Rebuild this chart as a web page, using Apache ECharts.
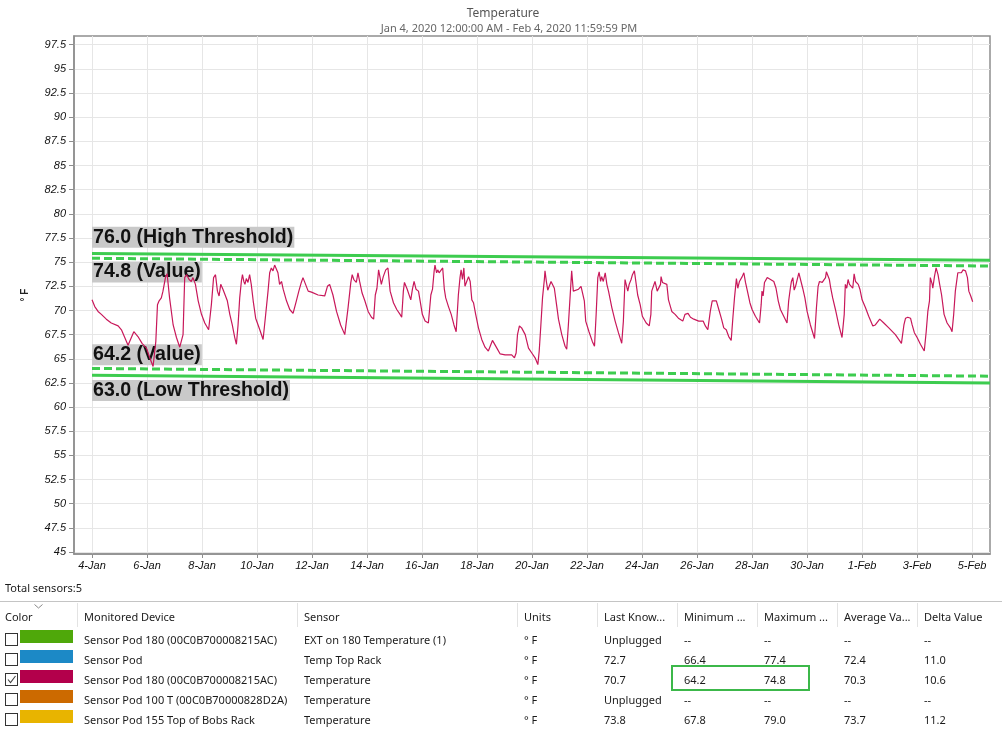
<!DOCTYPE html>
<html>
<head>
<meta charset="utf-8">
<script src="https://cdn.jsdelivr.net/npm/echarts@6/dist/echarts.min.js"></script>
<style>
  html, body { margin: 0; padding: 0; background: #fff; }
  #wrap { position: relative; width: 1002px; height: 732px; overflow: hidden; }
  #chart { position: absolute; left: 0; top: 0; width: 1002px; height: 732px; }
  #panel { position: absolute; left: 0; top: 0; width: 1002px; height: 732px; font-family: 'Noto Sans', sans-serif; font-size: 11px; color: #1b1b1b; pointer-events: none; }
  .abs { position: absolute; white-space: nowrap; line-height: 15px; }
</style>
</head>
<body>
<div id="wrap">
  <div id="chart"></div>
  <div id="panel"></div>
</div>
<script>
// days after Jan 4 2020 00:00 and the reading at that time (deg F)
const dayOffsets = [
  0.00, 0.10, 0.22, 0.34, 0.52, 0.70, 0.95, 1.07, 1.19, 1.31, 1.52, 1.67, 1.82, 1.98, 2.10, 2.22, 2.32, 2.38, 2.44, 2.52,
  2.58, 2.67, 2.73, 2.82, 2.95, 3.07, 3.19, 3.31, 3.37, 3.44, 3.53, 3.61, 3.67, 3.76, 3.86, 3.98, 4.10, 4.24, 4.34, 4.42,
  4.49, 4.56, 4.62, 4.68, 4.76, 4.82, 4.92, 5.01, 5.10, 5.19, 5.25, 5.31, 5.37, 5.43, 5.47, 5.52, 5.56, 5.61, 5.67, 5.73,
  5.79, 5.86, 5.95, 6.10, 6.22, 6.30, 6.40, 6.46, 6.52, 6.58, 6.64, 6.70, 6.76, 6.82, 6.89, 6.95, 7.07, 7.19, 7.31, 7.43,
  7.52, 7.61, 7.67, 7.73, 7.86, 7.98, 8.22, 8.46, 8.56, 8.64, 8.76, 8.89, 9.04, 9.19, 9.31, 9.41, 9.46, 9.52, 9.55, 9.61,
  9.67, 9.73, 9.82, 9.92, 10.04, 10.16, 10.24, 10.30, 10.36, 10.42, 10.52, 10.59, 10.68, 10.76, 10.84, 10.96, 11.08, 11.20, 11.26, 11.32,
  11.36, 11.41, 11.46, 11.53, 11.59, 11.65, 11.71, 11.75, 11.78, 11.83, 11.87, 11.93, 12.01, 12.11, 12.23, 12.32, 12.38, 12.44, 12.47, 12.53,
  12.57, 12.62, 12.69, 12.75, 12.81, 12.86, 12.96, 13.06, 13.16, 13.24, 13.32, 13.38, 13.42, 13.47, 13.52, 13.56, 13.62, 13.69, 13.75, 13.81,
  13.87, 13.95, 14.05, 14.17, 14.29, 14.41, 14.47, 14.56, 14.72, 14.84, 15.02, 15.26, 15.36, 15.42, 15.47, 15.54, 15.62, 15.75, 15.87, 15.99,
  16.11, 16.21, 16.26, 16.32, 16.38, 16.45, 16.47, 16.52, 16.57, 16.64, 16.69, 16.74, 16.81, 16.89, 16.96, 17.08, 17.20, 17.26, 17.32, 17.38,
  17.44, 17.50, 17.56, 17.69, 17.78, 17.83, 17.90, 17.95, 18.07, 18.19, 18.27, 18.33, 18.39, 18.44, 18.49, 18.53, 18.59, 18.66, 18.72, 18.78,
  18.90, 19.02, 19.14, 19.26, 19.32, 19.38, 19.48, 19.53, 19.60, 19.65, 19.72, 19.77, 19.84, 19.93, 20.01, 20.15, 20.26, 20.32, 20.35, 20.41,
  20.47, 20.55, 20.62, 20.67, 20.69, 20.74, 20.81, 20.90, 20.96, 21.08, 21.20, 21.32, 21.48, 21.56, 21.67, 21.76, 21.88, 22.06, 22.22, 22.30,
  22.39, 22.48, 22.55, 22.61, 22.70, 22.79, 22.89, 22.97, 23.06, 23.15, 23.24, 23.30, 23.36, 23.43, 23.48, 23.54, 23.60, 23.64, 23.70, 23.76,
  23.83, 23.92, 24.00, 24.12, 24.27, 24.33, 24.36, 24.40, 24.45, 24.51, 24.55, 24.61, 24.67, 24.73, 24.79, 24.87, 24.95, 25.03, 25.15, 25.27,
  25.33, 25.39, 25.43, 25.48, 25.53, 25.58, 25.64, 25.70, 25.76, 25.84, 25.92, 26.00, 26.12, 26.27, 26.34, 26.40, 26.45, 26.50, 26.55, 26.61,
  26.67, 26.70, 26.76, 26.81, 26.86, 26.93, 27.03, 27.15, 27.27, 27.35, 27.39, 27.44, 27.49, 27.54, 27.59, 27.66, 27.71, 27.76, 27.82, 27.86,
  27.92, 28.00, 28.12, 28.24, 28.39, 28.48, 28.64, 28.79, 28.97, 29.21, 29.43, 29.52, 29.58, 29.66, 29.76, 29.82, 29.90, 30.00, 30.12, 30.26,
  30.33, 30.39, 30.45, 30.48, 30.55, 30.57, 30.63, 30.69, 30.76, 30.82, 30.89, 30.98, 31.09, 31.21, 31.27, 31.33, 31.39, 31.48, 31.55, 31.61,
  31.67, 31.76, 31.83, 31.88, 31.95, 32.02
]
const tempF = [
  71.1, 70.4, 69.9, 69.6, 69.1, 68.7, 68.4, 68.0, 67.2, 66.4, 67.8, 67.3, 66.6, 66.1, 65.1, 64.2, 66.8, 70.6, 71.0, 71.3,
  72.0, 73.4, 73.8, 71.3, 68.5, 67.2, 66.2, 67.5, 73.4, 73.7, 73.2, 73.0, 73.4, 72.7, 71.0, 69.6, 68.7, 68.0, 70.6, 73.4,
  73.7, 72.0, 71.5, 72.7, 72.2, 72.3, 71.0, 69.6, 68.5, 67.2, 66.5, 68.5, 71.3, 73.0, 73.7, 73.0, 72.7, 73.3, 72.9, 73.7,
  72.7, 71.0, 69.2, 68.0, 67.0, 69.2, 72.0, 73.9, 74.4, 74.1, 74.7, 74.6, 73.9, 72.7, 73.0, 72.2, 71.0, 70.1, 69.7, 71.0,
  72.0, 72.9, 73.4, 73.2, 72.0, 71.9, 71.6, 71.5, 72.5, 72.7, 71.6, 69.9, 68.5, 67.5, 70.3, 72.9, 73.7, 73.2, 73.4, 72.9,
  73.9, 73.0, 71.8, 71.0, 69.9, 69.3, 69.1, 71.6, 72.3, 74.2, 72.7, 73.5, 74.2, 74.4, 72.0, 70.8, 70.1, 69.6, 69.3, 72.0,
  72.9, 73.1, 72.2, 72.0, 71.1, 72.2, 73.0, 73.1, 72.2, 72.3, 72.0, 71.0, 69.6, 68.9, 68.7, 71.6, 72.2, 74.1, 74.7, 73.9,
  74.2, 73.9, 73.7, 74.4, 72.2, 71.3, 70.4, 69.6, 68.5, 67.8, 71.6, 73.4, 74.2, 73.2, 74.4, 72.5, 72.7, 73.5, 73.0, 71.1,
  70.8, 69.6, 68.2, 67.0, 66.2, 65.8, 65.8, 66.9, 66.1, 65.5, 65.4, 65.4, 65.1, 65.6, 67.5, 68.4, 68.2, 67.5, 66.1, 65.6,
  65.1, 64.4, 65.8, 68.5, 71.3, 73.3, 74.1, 73.0, 72.1, 72.3, 73.0, 72.9, 72.3, 70.6, 69.1, 67.5, 66.3, 66.0, 68.5, 71.3,
  74.1, 72.0, 72.1, 72.2, 72.5, 72.3, 71.0, 68.9, 67.8, 66.8, 66.3, 69.6, 73.4, 74.0, 73.0, 73.5, 73.0, 73.9, 72.7, 72.0,
  70.3, 68.9, 67.7, 66.6, 68.9, 73.2, 72.0, 72.7, 73.2, 73.7, 74.1, 74.1, 71.6, 70.6, 69.4, 68.7, 68.4, 69.6, 72.0, 72.1,
  73.0, 72.0, 72.2, 72.7, 73.5, 72.9, 72.9, 72.7, 71.1, 69.9, 69.6, 69.2, 68.9, 69.6, 69.7, 69.3, 69.1, 68.9, 68.9, 68.4,
  68.0, 69.9, 71.0, 71.1, 71.0, 70.1, 69.1, 68.2, 68.0, 67.3, 66.9, 69.2, 71.3, 73.3, 72.3, 73.0, 73.1, 73.5, 73.9, 72.9,
  72.0, 70.8, 70.1, 69.4, 68.7, 70.6, 72.0, 71.5, 72.9, 73.0, 73.4, 73.5, 73.2, 73.2, 73.0, 72.3, 71.0, 70.1, 69.4, 68.7,
  71.0, 72.3, 73.0, 73.4, 72.1, 72.5, 72.3, 73.9, 73.8, 72.3, 71.3, 69.9, 68.5, 67.1, 70.3, 72.5, 73.0, 73.2, 72.9, 72.7,
  73.4, 74.0, 73.9, 73.2, 72.3, 71.3, 70.1, 68.5, 67.2, 69.6, 72.7, 72.3, 73.2, 72.7, 72.9, 72.3, 73.8, 73.0, 73.0, 72.7,
  72.2, 71.1, 70.3, 69.4, 68.4, 68.5, 69.1, 68.7, 68.2, 67.5, 66.6, 68.5, 69.2, 69.3, 69.2, 68.5, 67.7, 67.2, 66.5, 65.8,
  67.8, 69.9, 71.0, 73.4, 72.7, 72.3, 73.5, 74.4, 73.7, 72.7, 71.6, 69.6, 68.7, 68.2, 67.8, 69.6, 72.0, 73.9, 74.1, 73.9,
  74.2, 74.1, 73.4, 72.0, 71.5, 70.9
]

const xTickDays = [0, 2, 4, 6, 8, 10, 12, 14, 16, 18, 20, 22, 24, 26, 28, 30, 32]
const yTickValues = [45, 47.5, 50, 52.5, 55, 57.5, 60, 62.5, 65, 67.5, 70, 72.5, 75, 77.5, 80, 82.5, 85, 87.5, 90, 92.5, 95, 97.5]
const monthNames = ['Jan', 'Feb', 'Mar']

// reference lines: label, value at the left end, value at the right end (as drawn)
const refLabels = ['76.0 (High Threshold)', '74.8 (Value)', '64.2 (Value)', '63.0 (Low Threshold)']
const refStart = [75.9, 75.4, 64.0, 63.3]
const refEnd = [75.2, 74.6, 63.2, 62.5]

// sensor table
const tableHeaders = ['Color', 'Monitored Device', 'Sensor', 'Units', 'Last Know...', 'Minimum ...', 'Maximum ...', 'Average Va...', 'Delta Value']
const devices = ['Sensor Pod 180 (00C0B700008215AC)', 'Sensor Pod', 'Sensor Pod 180 (00C0B700008215AC)', 'Sensor Pod 100 T (00C0B70000828D2A)', 'Sensor Pod 155 Top of Bobs Rack']
const sensors = ['EXT on 180 Temperature (1)', 'Temp Top Rack', 'Temperature', 'Temperature', 'Temperature']
const units = ['° F', '° F', '° F', '° F', '° F']
const lastKnown = ['Unplugged', '72.7', '70.7', 'Unplugged', '73.8']
const minimum = ['--', '66.4', '64.2', '--', '67.8']
const maximum = ['--', '77.4', '74.8', '--', '79.0']
const average = ['--', '72.4', '70.3', '--', '73.7']
const delta = ['--', '11.0', '10.6', '--', '11.2']
const checked = [false, false, true, false, false]
const totalSensors = 5

const X_MIN = -0.655
const X_MAX = 32.65
const lineGreen = '#3dcc4f'

const dayLabel = (d) => {
  const dt = new Date(Date.UTC(2020, 0, 4) + Math.round(d) * 86400000)
  return dt.getUTCDate() + '-' + monthNames[dt.getUTCMonth()]
}

const refSeries = (i, dashed, offsetY) => ({
  type: 'line',
  z: 2,
  symbol: 'circle',
  symbolSize: 0,
  showSymbol: true,
  silent: true,
  lineStyle: { color: lineGreen, width: 3, type: dashed ? [8, 4] : 'solid' },
  itemStyle: { color: lineGreen },
  data: [
    {
      value: [0, refStart[i]],
      label: {
        show: true,
        position: 'right',
        distance: 0,
        offset: [0, offsetY],
        formatter: refLabels[i],
        fontFamily: 'Liberation Sans, Arial, sans-serif',
        fontWeight: 'bold',
        fontSize: 19.6,
        lineHeight: 21,
        color: '#111',
        backgroundColor: '#c9c9c9',
        padding: [0, 1],
      },
    },
    [X_MAX, refEnd[i]],
  ],
})

const axisFont = 'Liberation Sans, Arial, sans-serif'

const chart = echarts.init(document.getElementById('chart'))
chart.setOption({
  animation: false,
  backgroundColor: '#fff',
  title: [
    {
      text: 'Temperature',
      left: 498,
      top: 3,
      textAlign: 'center',
      textStyle: { fontFamily: 'Noto Sans', fontSize: 12, fontWeight: 'normal', color: '#555' },
    },
    {
      text: 'Jan 4, 2020 12:00:00 AM - Feb 4, 2020 11:59:59 PM',
      left: 504,
      top: 18,
      textAlign: 'center',
      textStyle: { fontFamily: 'Noto Sans', fontSize: 11, fontWeight: 'normal', color: '#666' },
    },
  ],
  grid: {
    left: 74,
    right: 12,
    top: 36,
    bottom: 178,
    show: true,
    borderColor: '#8e8e8e',
    borderWidth: 1.5,
  },
  xAxis: {
    type: 'value',
    min: X_MIN,
    max: X_MAX,
    axisLine: { show: true, onZero: false, lineStyle: { color: '#8e8e8e', width: 1.5 } },
    axisTick: { show: true, customValues: xTickDays, length: 4, lineStyle: { color: '#8e8e8e' } },
    axisLabel: {
      customValues: xTickDays,
      formatter: dayLabel,
      margin: 6,
      fontFamily: axisFont,
      fontStyle: 'italic',
      fontSize: 11,
      color: '#111',
    },
    splitLine: { show: true, lineStyle: { color: '#e6e6e6' } },
  },
  yAxis: {
    type: 'value',
    min: 44.8,
    max: 98.4,
    name: '° F',
    nameLocation: 'middle',
    nameGap: 44,
    nameRotate: 90,
    nameTextStyle: { fontFamily: axisFont, fontSize: 10, fontWeight: 'bold', color: '#222' },
    axisLine: { show: true, onZero: false, lineStyle: { color: '#8e8e8e', width: 1.5 } },
    axisTick: { show: true, customValues: yTickValues, length: 5, lineStyle: { color: '#8e8e8e' } },
    axisLabel: {
      customValues: yTickValues,
      margin: 8,
      fontFamily: axisFont,
      fontStyle: 'italic',
      fontSize: 11,
      color: '#111',
    },
    splitLine: { show: true, lineStyle: { color: '#e6e6e6' } },
  },
  series: [
    refSeries(0, false, -16.2),
    refSeries(1, true, 13.7),
    refSeries(2, true, -13.7),
    refSeries(3, false, 15.2),
    {
      name: 'Temperature',
      type: 'line',
      z: 3,
      symbol: 'none',
      silent: true,
      lineStyle: { color: '#c8185a', width: 1.2 },
      data: dayOffsets.map((d, i) => [d, tempF[i]]),
    },
  ],
})

// sensor list under the chart
const panel = document.getElementById('panel')
const swatchColors = ['#4fa80a', '#1c89c6', '#b3004b', '#cc6a00', '#e8b400']
const colX = [84, 304, 524, 604, 684, 764, 844, 924]
const sepX = [77, 297, 517, 597, 677, 757, 837, 917]

const put = (html, css) => {
  const el = document.createElement('div')
  el.className = 'abs'
  el.innerHTML = html
  Object.assign(el.style, css)
  panel.appendChild(el)
  return el
}

put('Total sensors:' + totalSensors, { left: '5px', top: '580px' })
put('', { left: '0px', top: '601px', width: '1002px', height: '1px', background: '#c4c4c4' })
put('<svg width="9" height="5"><polyline points="0.5,0.5 4.5,4 8.5,0.5" fill="none" stroke="#888" stroke-width="1"/></svg>', { left: '34px', top: '602px', lineHeight: '5px' })

put(tableHeaders[0], { left: '5px', top: '609px' })
tableHeaders.slice(1).forEach((h, i) => put(h, { left: colX[i] + 'px', top: '609px' }))
sepX.forEach((x) => put('', { left: x + 'px', top: '603px', width: '1px', height: '24px', background: '#e3e3e3' }))

const rowColumns = [devices, sensors, units, lastKnown, minimum, maximum, average, delta]
devices.forEach((_, r) => {
  const cy = 639.5 + r * 20
  put(checked[r] ? '<svg width="11" height="11"><polyline points="2,5.5 4.5,8.5 9.5,2" fill="none" stroke="#444" stroke-width="1.1"/></svg>' : '', {
    left: '5px', top: (cy - 6.5) + 'px', width: '13px', height: '13px', boxSizing: 'border-box',
    border: '1px solid #333', background: '#fff', lineHeight: '11px',
  })
  put('', { left: '20px', top: (cy - 9.5) + 'px', width: '53px', height: '13px', background: swatchColors[r] })
  rowColumns.forEach((col, c) => put(col[r], { left: colX[c] + 'px', top: (cy - 8) + 'px' }))
})

// highlight around the min / max of the selected sensor
put('', { left: '671px', top: '665px', width: '139px', height: '26px', boxSizing: 'border-box', border: '2px solid #3cb84a' })
</script>
</body>
</html>
